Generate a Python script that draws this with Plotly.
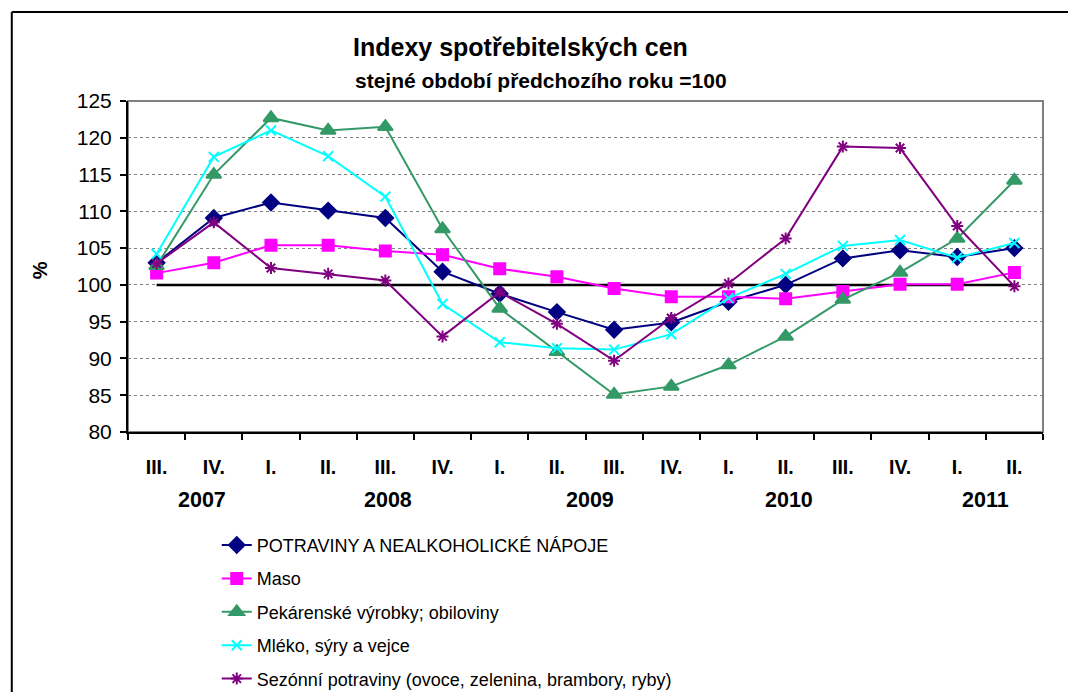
import plotly.graph_objects as go

quarters = ["III.", "IV.", "I.", "II.", "III.", "IV.", "I.", "II.", "III.", "IV.",
            "I.", "II.", "III.", "IV.", "I.", "II."]
years = ["2007", "2008", "2009", "2010", "2011"]

potraviny = [103.0, 109.1, 111.2, 110.1, 109.1, 101.8, 98.8, 96.3, 93.9, 94.9,
             97.7, 100.0, 103.6, 104.7, 103.8, 105.0]
maso = [101.6, 103.0, 105.4, 105.4, 104.6, 104.1, 102.2, 101.1, 99.5, 98.4,
        98.4, 98.1, 99.1, 100.1, 100.1, 101.7]
pekarenske = [102.6, 115.0, 122.7, 121.0, 121.5, 107.6, 96.8, 90.9, 85.1, 86.2,
              89.1, 93.0, 98.0, 101.7, 106.3, 114.2]
mleko = [104.2, 117.4, 121.0, 117.5, 112.0, 97.4, 92.2, 91.4, 91.2, 93.3,
         98.2, 101.5, 105.3, 106.1, 103.7, 105.7]
sezonni = [102.9, 108.5, 102.3, 101.5, 100.6, 93.0, 99.0, 94.7, 89.7, 95.5,
           100.2, 106.3, 118.8, 118.6, 108.0, 99.8]
zaklad = [100] * 16

x = list(range(len(quarters)))

fig = go.Figure()

# line at 100 from first to last quarter
fig.add_trace(go.Scatter(x=x, y=zaklad, mode="lines", line=dict(color="black", width=2.5),
                         showlegend=False, hoverinfo="skip"))

series = [
    ("POTRAVINY A NEALKOHOLICKÉ NÁPOJE", potraviny, "#000080", "diamond", 12),
    ("Maso", maso, "#FF00FF", "square", 11),
    ("Pekárenské výrobky; obiloviny", pekarenske, "#339966", "triangle-up", 13),
    ("Mléko, sýry a vejce", mleko, "#00FFFF", "x-thin-open", 10),
    ("Sezónní potraviny (ovoce, zelenina, brambory, ryby)", sezonni, "#800080", "asterisk-open", 10),
]
for name, vals, col, sym, size in series:
    fig.add_trace(go.Scatter(
        x=x, y=vals, name=name, legendgroup=name, mode="lines+markers",
        line=dict(color=col, width=2),
        marker=dict(symbol=sym, size=size, color=col, line=dict(color=col, width=2)),
    ))

# page has an 8px body margin, so the figure is 8px smaller than the window
fig.update_layout(
    width=1068, height=684,
    margin=dict(l=120, r=33, t=93, b=260, autoexpand=False),
    paper_bgcolor="white", plot_bgcolor="white",
    font=dict(family="Liberation Sans, Arial, sans-serif", color="black"),
    showlegend=True,
    legend=dict(x=0.097, y=-0.2864, xanchor="left", yanchor="top", font=dict(size=18),
                tracegroupgap=7, bgcolor="rgba(0,0,0,0)"),
)

fig.update_xaxes(
    range=[-0.5, 15.5], tickmode="array", tickvals=x,
    ticktext=["<b>" + q + "</b>" for q in quarters], tickfont=dict(size=19.5),
    ticks="", ticklabelstandoff=17, showgrid=False, zeroline=False,
    showline=True, linecolor="black", linewidth=2,
    minor=dict(tickmode="linear", tick0=-0.5, dtick=1, ticks="outside", ticklen=6,
               tickcolor="black", tickwidth=1.5, showgrid=False),
)
fig.update_yaxes(
    range=[80, 125], dtick=5, tickfont=dict(size=21), ticklabelstandoff=4,
    ticks="outside", ticklen=6, tickcolor="black", tickwidth=1.5,
    showline=True, linecolor="black", linewidth=2, zeroline=False,
    showgrid=True, gridcolor="#808080", griddash="dot", gridwidth=1,
)

# plot area border (gray top and right)
fig.add_shape(type="rect", xref="paper", yref="paper", x0=0, x1=1, y0=0, y1=1,
              line=dict(color="#808080", width=2), layer="below")
# outer chart frame
fig.add_shape(type="line", xref="paper", yref="paper", x0=-0.127, x1=1.1, y0=1.269, y1=1.269,
              line=dict(color="black", width=2))
fig.add_shape(type="line", xref="paper", yref="paper", x0=-0.127, x1=-0.127, y0=1.269, y1=-0.85,
              line=dict(color="black", width=2))

fig.add_annotation(x=0.4295, y=1.163, xref="paper", yref="paper",
                   text="<b>Indexy spotřebitelských cen</b>", showarrow=False,
                   font=dict(size=25), xanchor="center", yanchor="middle")
fig.add_annotation(x=0.4514, y=1.0634, xref="paper", yref="paper",
                   text="<b>stejné období předchozího roku =100</b>", showarrow=False,
                   font=dict(size=21), xanchor="center", yanchor="middle")

year_pos = [0.8, 4.05, 7.57, 11.06, 14.5]
for yr, px_ in zip(years, year_pos):
    fig.add_annotation(x=px_, y=-0.2054, xref="x", yref="paper", text="<b>" + yr + "</b>",
                       showarrow=False, font=dict(size=21.5), xanchor="center", yanchor="middle")

fig.add_annotation(x=-0.096, y=0.489, xref="paper", yref="paper", text="<b>%</b>",
                   textangle=-90, showarrow=False, font=dict(size=20),
                   xanchor="center", yanchor="middle")

fig.write_html("out.html")
